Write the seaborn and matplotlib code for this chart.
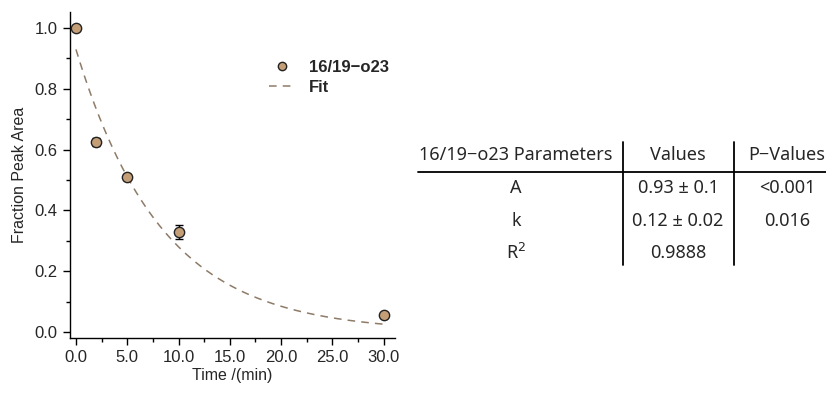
import numpy as np
import matplotlib
matplotlib.use("Agg")
import matplotlib.pyplot as plt
import seaborn as sns
from matplotlib.ticker import MultipleLocator, FormatStrFormatter
from matplotlib.lines import Line2D

sns.set_style("ticks")
plt.rcParams['font.family'] = ['Liberation Sans', 'DejaVu Sans']

# data
time_min = [0, 2, 5, 10, 30]
fraction = [1.0, 0.625, 0.51, 0.33, 0.055]
frac_err = [0.005, 0.012, 0.01, 0.023, 0.005]
series_name = "16/19\u2212o23"
fit_A = 0.93
fit_k = 0.12
fit_t = np.linspace(0, 30, 200)
fit_y = fit_A * np.exp(-fit_k * fit_t)

table_header = ["16/19\u2212o23 Parameters", "Values", "P\u2212Values"]
table_rows = [["A", "0.93 \u00b1 0.1", "<0.001"],
              ["k", "0.12 \u00b1 0.02", "0.016"],
              ["R$^2$", "0.9888", ""]]

marker_color = "#C49E76"
fit_color = "#8E7B68"

fig = plt.figure(figsize=(8.26, 3.93), dpi=100)
ax = fig.add_axes([70/826, 1-338/393, (395-70)/826, (338-12)/393])

sns.lineplot(x=fit_t, y=fit_y, ax=ax, color=fit_color, linestyle=(0, (5, 4)),
             linewidth=1.1, label="Fit", zorder=1)
ax.errorbar(time_min, fraction, yerr=frac_err, fmt='none', ecolor='black',
            elinewidth=1, capsize=3, capthick=1, zorder=2)
sns.scatterplot(x=time_min, y=fraction, ax=ax, color=marker_color, edgecolor="#222222",
                linewidth=1, s=55, zorder=3, label=series_name)

ax.set_xlim(-0.58, 31.1)
ax.set_ylim(-0.02, 1.053)
ax.xaxis.set_major_locator(MultipleLocator(5))
ax.xaxis.set_minor_locator(MultipleLocator(2.5))
ax.yaxis.set_major_locator(MultipleLocator(0.2))
ax.yaxis.set_minor_locator(MultipleLocator(0.1))
ax.xaxis.set_major_formatter(FormatStrFormatter('%.1f'))
ax.yaxis.set_major_formatter(FormatStrFormatter('%.1f'))
ax.tick_params(which='major', length=5, width=1, labelsize=12, color='black', pad=4)
ax.tick_params(which='minor', length=3, width=1, color='black')
for s in ['top', 'right']:
    ax.spines[s].set_visible(False)
for s in ['left', 'bottom']:
    ax.spines[s].set_linewidth(1)
    ax.spines[s].set_color('black')
ax.set_xlabel("Time /(min)", fontsize=11.5, labelpad=2)
ax.set_ylabel("Fraction Peak Area", fontsize=11.5, labelpad=5)

handles = [Line2D([], [], marker='o', linestyle='none', markerfacecolor=marker_color,
                  markeredgecolor="#222222", markersize=6),
           Line2D([], [], color=fit_color, linestyle=(0, (5, 4)), linewidth=1.1)]
ax.legend(handles, [series_name, "Fit"], loc='upper left', bbox_to_anchor=(0.565, 0.90),
          frameon=False, prop={'weight': 'bold', 'size': 12}, handlelength=1.6,
          labelspacing=0.3, handletextpad=0.8)

# table
tfont = dict(family=['Noto Sans', 'DejaVu Sans'], fontsize=13)
col_x = [516, 678, 787]
row_y = [155, 188, 221, 253]
H = 393
for x, t in zip(col_x, table_header):
    fig.text(x/826, 1-row_y[0]/H, t, ha='center', va='center', **tfont)
for r, row in enumerate(table_rows):
    for x, t in zip(col_x, row):
        fig.text(x/826, 1-row_y[r+1]/H, t, ha='center', va='center', **tfont)
fig.add_artist(Line2D([418/826, 826/826], [1-172/H, 1-172/H], color='black', lw=1.3))
for vx in [623, 734]:
    fig.add_artist(Line2D([vx/826, vx/826], [1-142/H, 1-265/H], color='black', lw=1.3))

fig.savefig("out.png", dpi=100)
